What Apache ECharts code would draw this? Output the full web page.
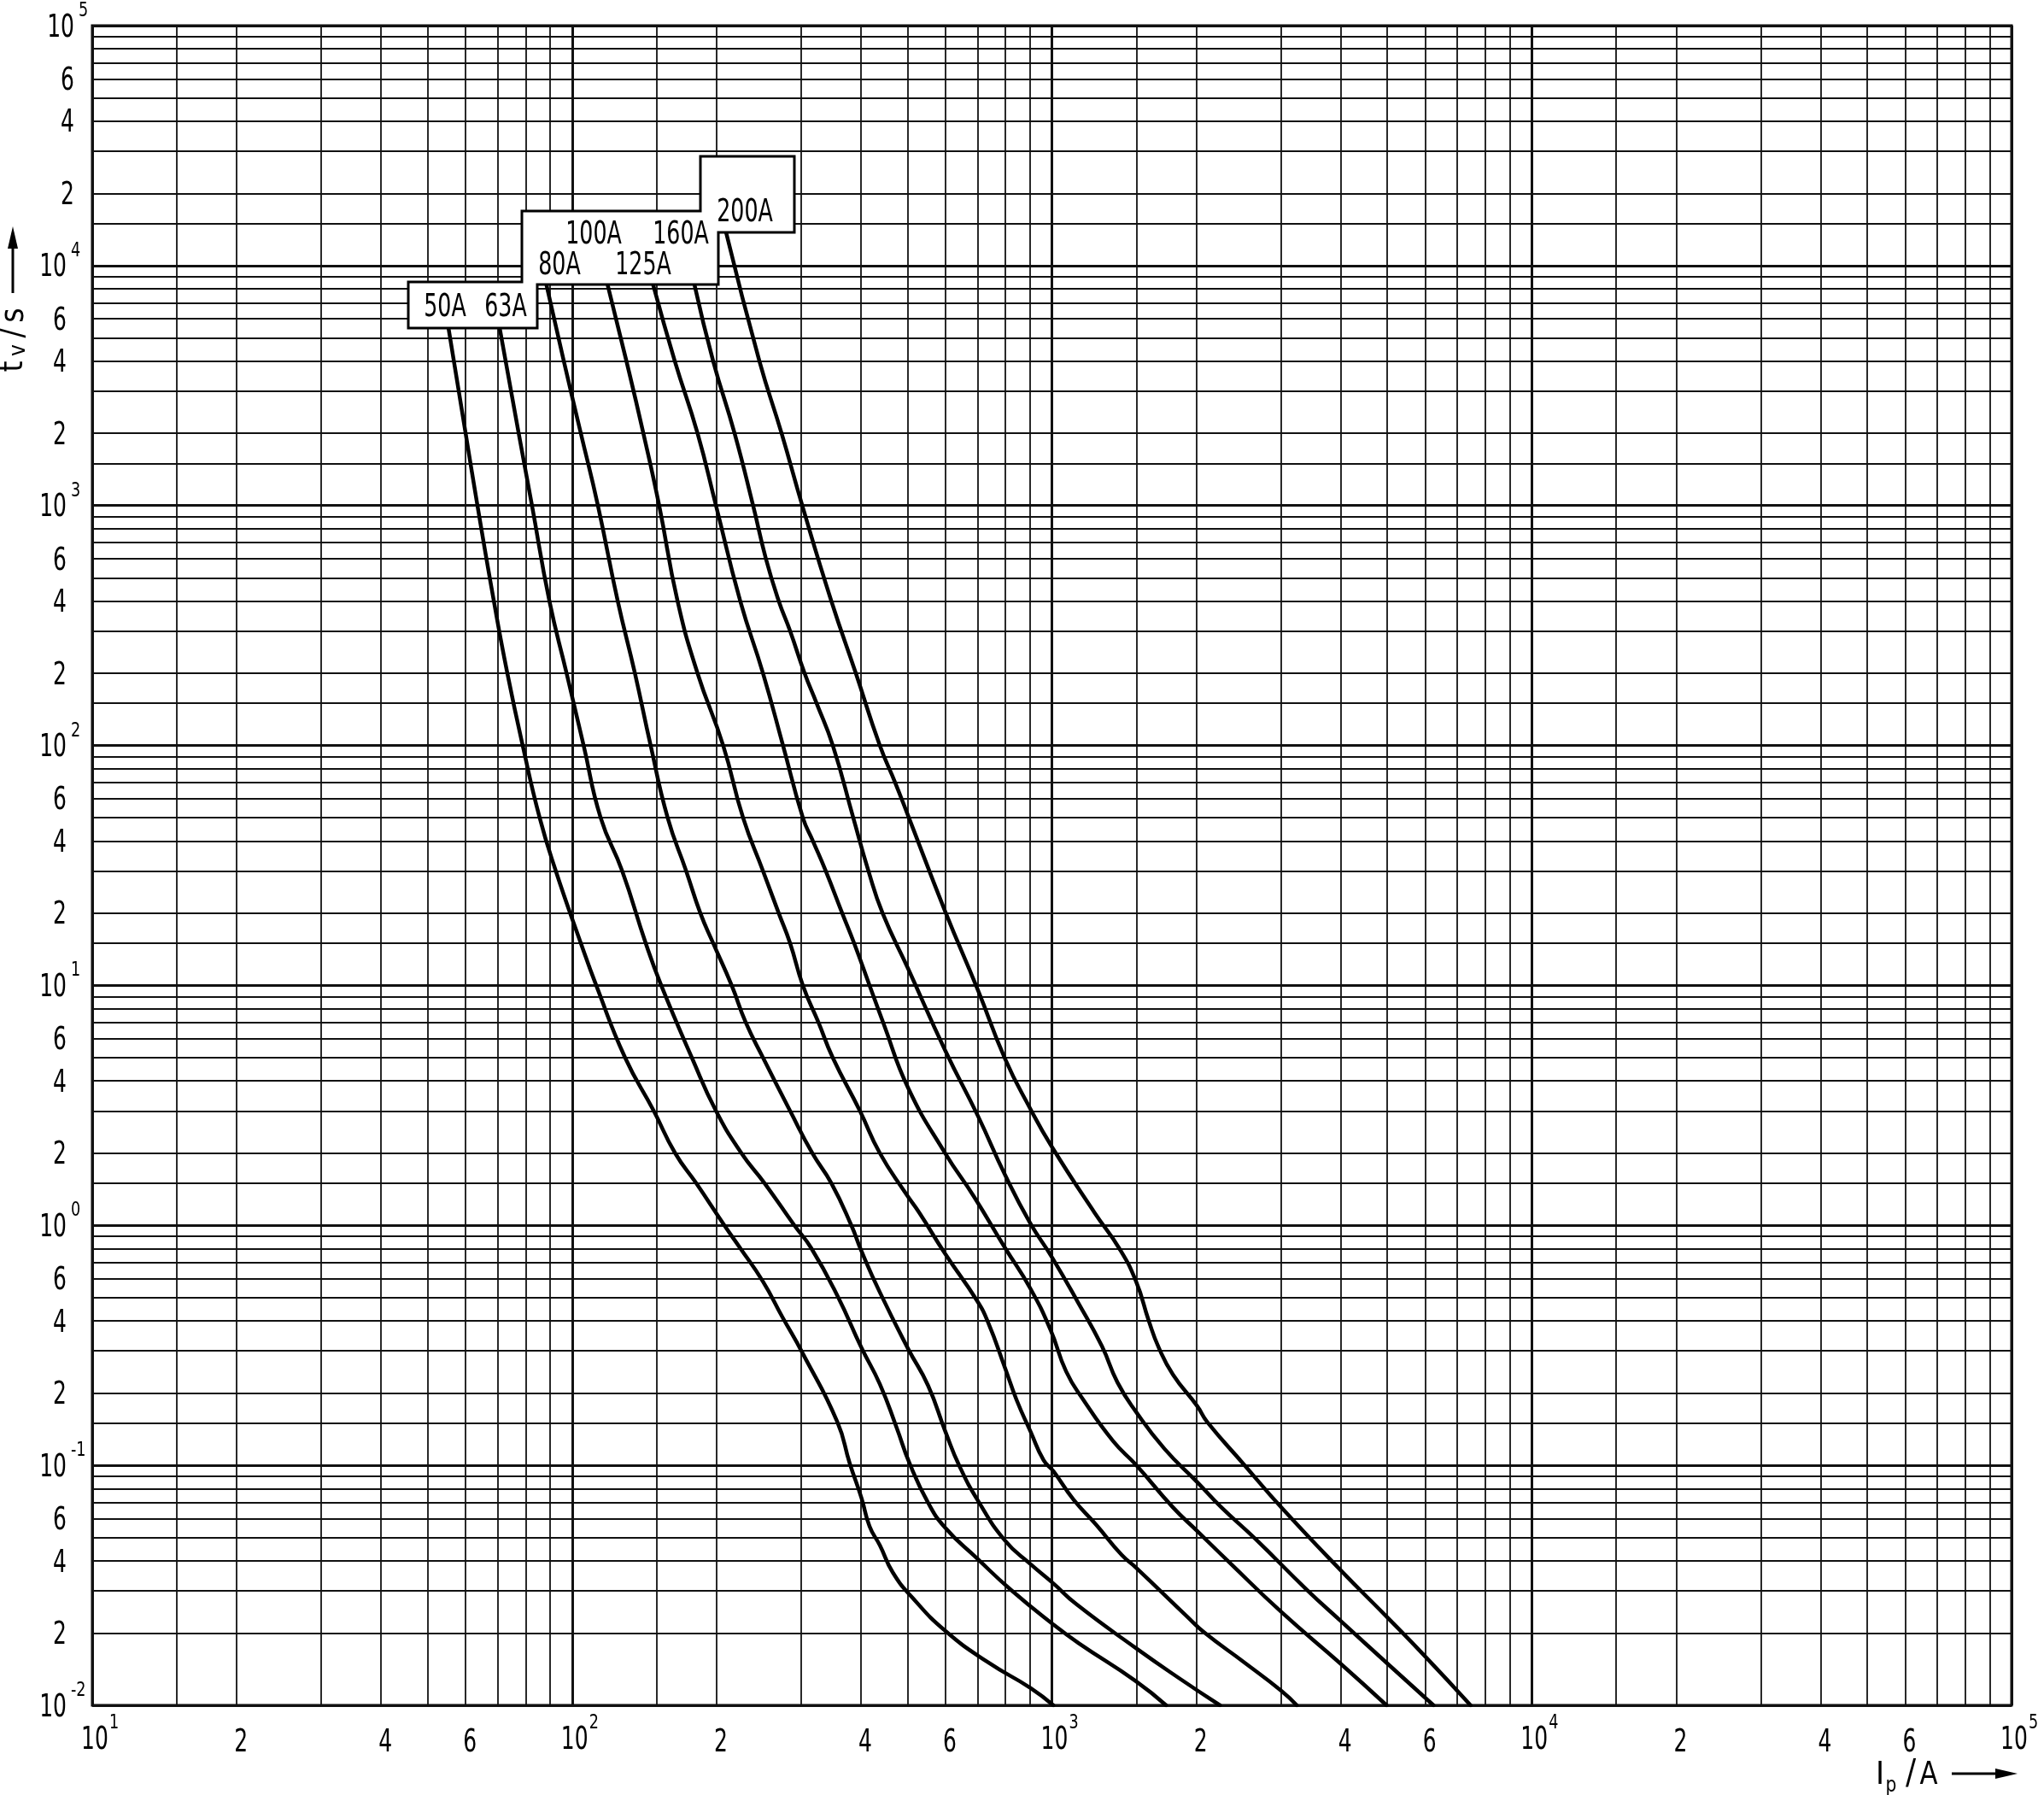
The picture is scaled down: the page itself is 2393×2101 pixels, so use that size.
<!DOCTYPE html>
<html>
<head>
<meta charset="utf-8">
<title>Fuse time-current characteristics</title>
<script src="https://cdn.jsdelivr.net/npm/echarts@6.0.0/dist/echarts.min.js"></script>
<style>
html,body{margin:0;padding:0;background:#fff;}
#chart{width:2393px;height:2101px;}
</style>
</head>
<body>
<div id="chart"></div>
<script>
// ---------------- DATA ----------------
const ratings = ['50A', '63A', '80A', '100A', '125A', '160A', '200A'];

const current50A = [55.3, 60.0, 63.5, 68.7, 73.3, 78.9, 85.6, 92.5, 104.3, 112.3, 129, 148, 164, 181.4, 207.7, 224, 250, 274, 303, 357, 379, 401, 417, 438, 466, 512, 600, 736, 903, 1007];
const time50A    = [5450, 2000, 1000, 400, 200, 100, 50, 30, 15, 10, 5, 3, 2, 1.5, 1, 0.805, 0.583, 0.417, 0.291, 0.152, 0.102, 0.0731, 0.0556, 0.0464, 0.0358, 0.0281, 0.0204, 0.0151, 0.0118, 0.01];

const current63A = [70.7, 77.4, 82.5, 89.7, 97.4, 105.7, 114.7, 127.2, 142.4, 153.4, 177.7, 199.5, 225.4, 251.8, 290.6, 315, 357, 401, 438, 475, 505, 552, 600, 697, 821, 1007, 1139, 1497, 1730];
const time63A    = [5450, 2000, 1000, 400, 200, 100, 50, 30, 15, 10, 5, 3, 2, 1.5, 1, 0.805, 0.511, 0.309, 0.218, 0.143, 0.102, 0.0699, 0.0548, 0.0411, 0.0303, 0.0217, 0.0181, 0.0126, 0.01];

const current80A = [88.5, 96.1, 104.3, 113.2, 124.5, 135.2, 145.8, 158.2, 172.9, 185.1, 196.8, 215.1, 230.2, 250, 284.7, 316.7, 347, 382, 401, 438, 502, 552, 600, 642, 702, 799, 903, 1007, 1124, 1497, 1838, 2240];
const time80A    = [8260, 4000, 2000, 1000, 400, 200, 100, 50, 30, 20, 15, 10, 7, 5, 3, 2, 1.5, 1, 0.781, 0.526, 0.305, 0.215, 0.138, 0.0991, 0.071, 0.0485, 0.0387, 0.0322, 0.0264, 0.0173, 0.013, 0.01];

const current100A = [118.7, 129.8, 140.8, 151.9, 165.9, 182.6, 206.5, 227.2, 250, 269.6, 284.7, 302.7, 326.3, 349.4, 398, 438, 495.2, 530, 600, 697, 736, 799, 844, 903, 961, 1007, 1109, 1237, 1398, 1497, 1915, 2078, 2516, 3006, 3239];
const time100A    = [8260, 4000, 2000, 1000, 400, 200, 100, 50, 30, 20, 15, 10, 7, 5, 3, 2, 1.365, 1.124, 0.758, 0.488, 0.395, 0.254, 0.1875, 0.138, 0.105, 0.0946, 0.072, 0.0565, 0.0423, 0.0375, 0.0234, 0.0201, 0.0151, 0.0115, 0.01];

const current125A = [147.7, 163.7, 182.6, 199.5, 224.1, 250, 275.2, 302.7, 317.6, 337.8, 365.6, 387.1, 416.9, 445.1, 502, 600, 687.3, 799, 903, 994, 1071, 1163, 1342, 1497, 1788, 2009, 2350, 3006, 4005, 4983];
const time125A    = [8260, 4000, 2000, 1000, 400, 200, 100, 50, 40, 30, 20, 15, 10, 7, 3.73, 1.99, 1.322, 0.805, 0.543, 0.366, 0.246, 0.1875, 0.126, 0.1005, 0.0668, 0.0532, 0.0392, 0.0245, 0.01485, 0.01];

const current160A = [180.1, 196.8, 218.1, 238.4, 253.5, 269.6, 284.7, 305.2, 323.3, 349.5, 385.5, 414.6, 443.8, 501.8, 599.5, 701.5, 798.8, 899.5, 1001, 1132, 1271, 1370, 1497, 1717, 2009, 2256, 2657, 3399, 4005, 5017, 6242];
const time160A    = [8260, 4000, 2000, 1000, 600, 400, 300, 200, 150, 100, 50, 30, 20, 11.73, 5.35, 2.854, 1.622, 1.028, 0.735, 0.48, 0.314, 0.2216, 0.1673, 0.1171, 0.0851, 0.0668, 0.0493, 0.0303, 0.0224, 0.01485, 0.01];

const current200A = [209.4, 245.7, 273.3, 301.8, 347, 390.3, 437.9, 471.4, 499.3, 599.5, 701.5, 798.8, 899.5, 1001, 1229, 1380, 1497, 1592, 1670, 1788, 2009, 2107, 2516, 3006, 4005, 5017, 6034, 7458];
const time200A    = [13750, 4000, 2000, 1000, 400, 200, 100, 70, 52.2, 20.3, 9.55, 4.946, 3.088, 2.117, 1.124, 0.805, 0.585, 0.4005, 0.3094, 0.2389, 0.1764, 0.1516, 0.1006, 0.0668, 0.0364, 0.0231, 0.01578, 0.01];

// grid / tick definitions
const xDecades = [10, 100, 1000, 10000, 100000];
const yDecades = [0.01, 0.1, 1, 10, 100, 1000, 10000, 100000];
const minorMultipliers = [1.5, 2, 3, 4, 5, 6, 7, 8, 9];

const xTickValues = [10, 20, 40, 60, 100, 200, 400, 600, 1000, 2000, 4000, 6000, 10000, 20000, 40000, 60000, 100000];
const xTickLabels = ['10^1', '2', '4', '6', '10^2', '2', '4', '6', '10^3', '2', '4', '6', '10^4', '2', '4', '6', '10^5'];

const yTickValues = [100000, 60000, 40000, 20000, 10000, 6000, 4000, 2000, 1000, 600, 400, 200, 100, 60, 40, 20, 10, 6, 4, 2, 1, 0.6, 0.4, 0.2, 0.1, 0.06, 0.04, 0.02, 0.01];
const yTickLabels = ['10^5', '6', '4', '2', '10^4', '6', '4', '2', '10^3', '6', '4', '2', '10^2', '6', '4', '2', '10^1', '6', '4', '2', '10^0', '6', '4', '2', '10^-1', '6', '4', '2', '10^-2'];

// ---------------- CHART ----------------
const FONT = '"Liberation Sans Narrow", "DejaVu Sans Condensed", "Arial Narrow", sans-serif';
const chart = echarts.init(document.getElementById('chart'), null, { renderer: 'canvas' });

const curves = [
  [current50A, time50A], [current63A, time63A], [current80A, time80A], [current100A, time100A],
  [current125A, time125A], [current160A, time160A], [current200A, time200A]
];
function zip(a, b) { return a.map((v, i) => [v, b[i]]); }

const gridMarks = [];
xDecades.forEach(d => gridMarks.push({ xAxis: d, lineStyle: { width: 3 } }));
xDecades.slice(0, -1).forEach(d => minorMultipliers.forEach(m => gridMarks.push({ xAxis: +(d * m).toPrecision(6), lineStyle: { width: 1.8 } })));
yDecades.forEach(d => gridMarks.push({ yAxis: d, lineStyle: { width: 3 } }));
yDecades.slice(0, -1).forEach(d => minorMultipliers.forEach(m => gridMarks.push({ yAxis: +(d * m).toPrecision(6), lineStyle: { width: 1.8 } })));

const series = [{
  type: 'line', name: 'grid', data: [[10, 0.01]], symbol: 'none', showSymbol: false,
  lineStyle: { width: 0 }, silent: true, z: 1,
  markLine: {
    silent: true, symbol: ['none', 'none'], animation: false,
    label: { show: false },
    lineStyle: { color: '#111', type: 'solid', width: 1.8 },
    emphasis: { disabled: true },
    data: gridMarks
  }
}];
curves.forEach((c, i) => series.push({
  type: 'line', name: ratings[i], data: zip(c[0], c[1]),
  symbol: 'none', showSymbol: false, smooth: 0.5,
  lineStyle: { color: '#000', width: 4.5, cap: 'round', join: 'round' },
  z: 5, silent: true
}));

const option = {
  animation: false,
  backgroundColor: '#fff',
  grid: { left: 108, top: 30, width: 2247, height: 1966, show: true, borderColor: '#000', borderWidth: 3, backgroundColor: 'transparent' },
  xAxis: {
    type: 'log', logBase: 10, min: 10, max: 100000,
    axisLine: { show: false }, axisTick: { show: false }, axisLabel: { show: false }, splitLine: { show: false }
  },
  yAxis: {
    type: 'log', logBase: 10, min: 0.01, max: 100000,
    axisLine: { show: false }, axisTick: { show: false }, axisLabel: { show: false }, splitLine: { show: false }
  },
  series: series
};
chart.setOption(option);

// ---------------- ANNOTATIONS ----------------
const g = [];
const SX = 0.75;
function txt(text, x, y, size, align, sx) {
  const el = {
    type: 'text', x: x, y: y, z: 80, scaleX: sx || SX,
    style: {
      text: text, fontSize: size, fontFamily: FONT, fill: '#000',
      textAlign: align || 'center', textVerticalAlign: 'middle',
      align: align || 'center', verticalAlign: 'middle'
    }
  };
  g.push(el);
  return el;
}

// Y tick labels
yTickValues.forEach((v, i) => {
  const py = chart.convertToPixel({ yAxisIndex: 0 }, v);
  const lab = yTickLabels[i];
  const xr = v > 10000 ? 87 : 78;
  if (lab.indexOf('^') >= 0) {
    const exp = lab.split('^')[1];
    txt('10', xr, py + 3, 37, 'right');
    txt(exp, xr + 5, py - 17, 23, 'left', 0.85);
  } else {
    txt(lab, xr, py + 3, 37, 'right');
  }
});

// X tick labels
xTickValues.forEach((v, i) => {
  const px = chart.convertToPixel({ xAxisIndex: 0 }, v);
  const lab = xTickLabels[i];
  if (lab.indexOf('^') >= 0) {
    const exp = lab.split('^')[1];
    txt('10', px + 3, 2037, 37, 'center');
    txt(exp, px + 20, 2017, 23, 'left', 0.85);
  } else {
    txt(lab, px + 5, 2040, 37, 'center');
  }
});

// X axis title  I_p / A  --->
txt('I', 2201, 2078, 38, 'center', 1);
txt('p', 2214, 2090, 25, 'center', 0.9);
txt('/', 2237, 2078, 40, 'center', 1);
txt('A', 2258, 2078, 38, 'center', 0.9);
g.push({ type: 'line', z: 80, shape: { x1: 2285, y1: 2076, x2: 2340, y2: 2076 }, style: { stroke: '#000', lineWidth: 3 } });
g.push({ type: 'polygon', z: 80, shape: { points: [[2362, 2076], [2336, 2070], [2336, 2082]] }, style: { fill: '#000' } });

// Y axis title  t_v / s  ---> (rotated)
const fs = (s) => ({ fontSize: s, fontFamily: FONT, fill: '#000', textAlign: 'center', textVerticalAlign: 'middle', align: 'center', verticalAlign: 'middle' });
g.push({
  type: 'group', x: 16, y: 443, rotation: Math.PI / 2, z: 80,
  children: [
    { type: 'text', x: 14, y: 0, style: Object.assign({ text: 't' }, fs(37)) },
    { type: 'text', x: 33, y: 6, style: Object.assign({ text: 'v' }, fs(26)) },
    { type: 'text', x: 53, y: 0, style: Object.assign({ text: '/' }, fs(37)) },
    { type: 'text', x: 74, y: 1, style: Object.assign({ text: 's' }, fs(37)) },
    { type: 'line', shape: { x1: 100, y1: -1, x2: 156, y2: -1 }, style: { stroke: '#000', lineWidth: 3 } },
    { type: 'polygon', shape: { points: [[178, -1], [152, -7], [152, 5]] }, style: { fill: '#000' } }
  ]
});

// Legend boxes
g.push({
  type: 'polygon', z: 70,
  shape: { points: [[478, 330], [611, 330], [611, 247], [820, 247], [820, 183], [930, 183], [930, 272], [841, 272], [841, 333], [629, 333], [629, 384], [478, 384]] },
  style: { fill: '#fff', stroke: '#000', lineWidth: 3, lineJoin: 'miter' }
});
const legendPos = { '50A': [521, 360], '63A': [592, 360], '80A': [655, 311], '125A': [753, 311], '100A': [695, 275], '160A': [797, 275], '200A': [872, 249] };
ratings.forEach(r => txt(r, legendPos[r][0], legendPos[r][1], 37, 'center', 0.76));

chart.setOption({ graphic: g });
</script>
</body>
</html>
